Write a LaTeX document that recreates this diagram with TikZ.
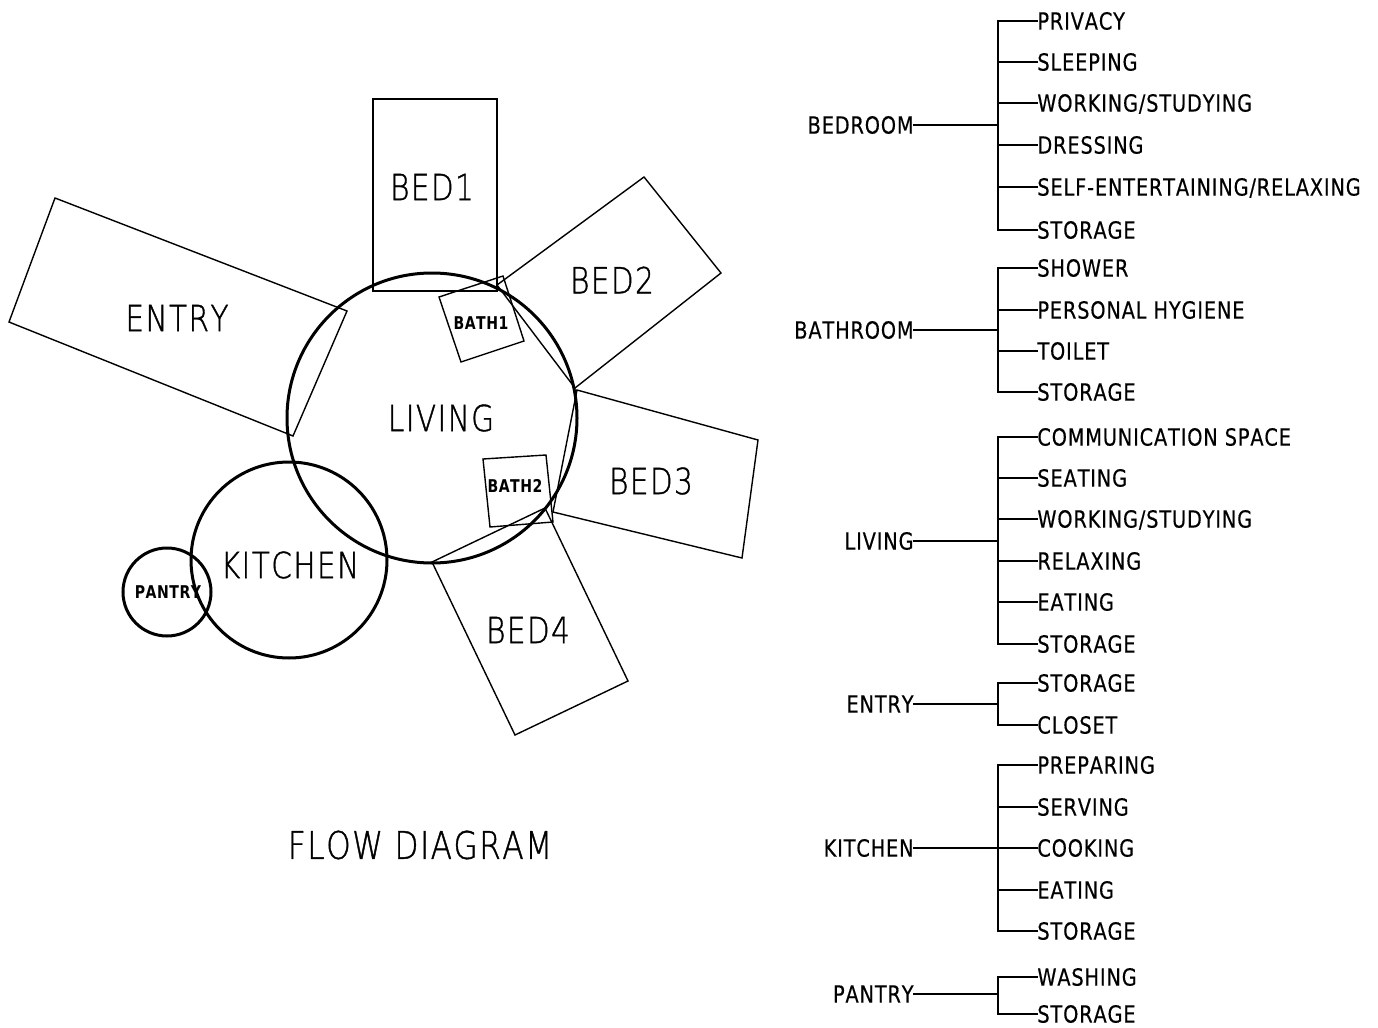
\documentclass[tikz,border=0pt]{standalone}
\usepackage{fontspec}
\setmainfont{DejaVu Sans}[FakeStretch=0.8]
\newfontfamily\bigfont{DejaVu Sans ExtraLight}[FakeStretch=0.82, LetterSpace=4, Kerning=Off, FakeBold=1]
\newfontfamily\listfont{DejaVu Sans}[FakeStretch=0.82, LetterSpace=3.5, Kerning=Off, FakeBold=0.4]
\newfontfamily\tinyfont{DejaVu Sans Bold}[FakeStretch=0.8, LetterSpace=3, Kerning=Off]
\newcommand{\roomtree}[6]{%
  \node[parentl] (#1) at (914,#3) {#2};
  \coordinate (#1j) at (998,#3);
  \draw[tline] (#1.east) -- (#1j);
  \coordinate (#1top) at (998,#4);
  \coordinate (#1bot) at (998,#5);
  \draw[tline] (#1top) -- (#1bot);
  \foreach \yy/\txt [count=\k] in {#6} {
    \node[iteml] (#1\k) at (1037,\yy) {\txt};
    \draw[tline] (998,\yy) -- (#1\k.west);
  }%
}
\begin{document}
\begin{tikzpicture}[x=0.5pt,y=-0.5pt,
  room/.style={draw, line width=0.7pt, line join=miter},
  zone/.style={draw, line width=1.5pt},
  bigl/.style={font=\bigfont\fontsize{18}{21}\selectfont, inner sep=0},
  titlel/.style={font=\bigfont\fontsize{19}{23}\selectfont, inner sep=0},
  smalll/.style={font=\tinyfont\fontsize{8.8}{10}\selectfont, inner sep=0},
  parentl/.style={font=\listfont\fontsize{11.8}{14}\selectfont, inner sep=0, anchor=east, text height=8.6pt, text depth=0pt},
  iteml/.style={font=\listfont\fontsize{11.8}{14}\selectfont, inner sep=0, anchor=west, text height=8.6pt, text depth=0pt},
  tline/.style={line width=1pt, line cap=rect}]
\useasboundingbox (0,0) rectangle (1378,1028);

% ---------- room rectangles ----------
\draw[room] (373,99) rectangle (497,291);                          % BED1
\draw[room] (55,198) -- (347,311) -- (293,436) -- (9,322) -- cycle; % ENTRY
\draw[room] (644,177) -- (721,273) -- (575,388) -- (497,285) -- cycle; % BED2
\draw[room] (439,297) -- (503,276) -- (524,341) -- (461,362) -- cycle; % BATH1
\draw[room] (577,390) -- (758,440) -- (742,558) -- (553,512) -- cycle; % BED3
\draw[room] (483,459) -- (546,455) -- (553,522) -- (490,527) -- cycle; % BATH2
\draw[room] (432,562) -- (545,508) -- (628,681) -- (515,735) -- cycle; % BED4

% ---------- circular zones ----------
\draw[zone] (432,418) circle[radius=145]; % LIVING
\draw[zone] (289,560) circle[radius=98];  % KITCHEN
\draw[zone] (167,592) circle[radius=44];  % PANTRY

% ---------- labels ----------
\node[bigl] (lbed1) at (432,187) {BED1};
\node[bigl] (lbed2) at (612,280) {BED2};
\node[bigl] (lentry) at (177,318) {ENTRY};
\node[bigl] (lliving) at (441,418) {LIVING};
\node[bigl] (lbed3) at (651,481) {BED3};
\node[bigl] (lkitchen) at (290,565) {KITCHEN};
\node[bigl] (lbed4) at (528,630) {BED4};
\node[smalll] (lbath1) at (481,323) {BATH1};
\node[smalll] (lbath2) at (515,486) {BATH2};
\node[smalll] (lpantry) at (168,592) {PANTRY};
\node[titlel] (ltitle) at (420,845) {FLOW DIAGRAM};

% ---------- function trees ----------
\roomtree{bd}{BEDROOM}{125}{21}{230}{21/{PRIVACY},62/{SLEEPING},103/{WORKING/STUDYING},145/{DRESSING},187/{SELF-ENTERTAINING/RELAXING},230/{STORAGE}}
\roomtree{ba}{BATHROOM}{330}{268}{392}{268/{SHOWER},310/{PERSONAL HYGIENE},351/{TOILET},392/{STORAGE}}
\roomtree{lv}{LIVING}{541}{437}{644}{437/{COMMUNICATION SPACE},478/{SEATING},519/{WORKING/STUDYING},561/{RELAXING},602/{EATING},644/{STORAGE}}
\roomtree{en}{ENTRY}{704}{683}{725}{683/{STORAGE},725/{CLOSET}}
\roomtree{ki}{KITCHEN}{848}{765}{931}{765/{PREPARING},807/{SERVING},848/{COOKING},890/{EATING},931/{STORAGE}}
\roomtree{pa}{PANTRY}{994}{977}{1014}{977/{WASHING},1014/{STORAGE}}
\end{tikzpicture}
\end{document}
